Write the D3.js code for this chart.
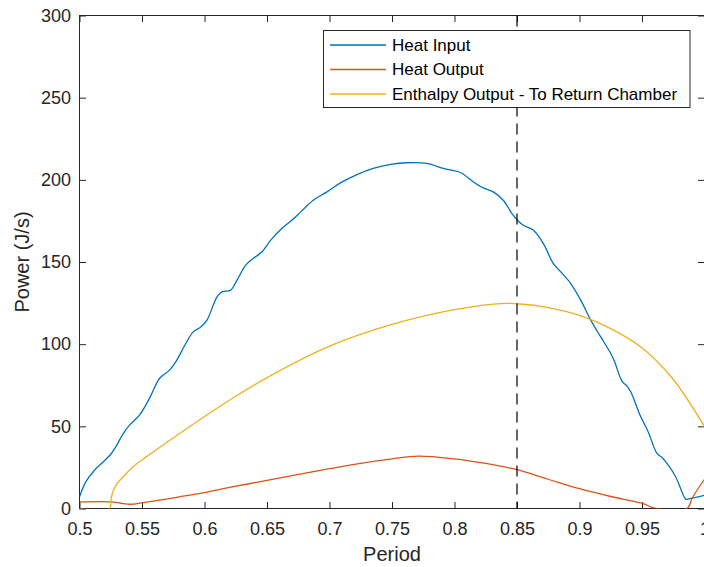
<!DOCTYPE html>
<html>
<head>
    <title>Power vs Period</title>
    <script src="https://d3js.org/d3.v7.min.js"></script>
    <style>
        body { margin: 0; background: #fff; }
        text { font-family: "Liberation Sans", Arial, sans-serif; }
    </style>
</head>
<body>
    <div id="chart"></div>
    <script>
        // period values and power (J/s)
        var heatInX = [0.500, 0.505, 0.512, 0.519, 0.525, 0.529, 0.535, 0.540, 0.548, 0.556,
                       0.564, 0.572, 0.577, 0.585, 0.591, 0.597, 0.602, 0.610, 0.614, 0.621,
                       0.626, 0.633, 0.639, 0.646, 0.653, 0.661, 0.670, 0.677, 0.687, 0.698,
                       0.709, 0.722, 0.735, 0.749, 0.762, 0.778, 0.791, 0.805, 0.815, 0.823,
                       0.831, 0.839, 0.846, 0.851, 0.855, 0.863, 0.871, 0.879, 0.885, 0.893,
                       0.901, 0.909, 0.917, 0.925, 0.928, 0.934, 0.938, 0.941, 0.949, 0.955,
                       0.962, 0.966, 0.970, 0.977, 0.982, 0.985, 0.989, 1.000];
        var heatIn  = [7.1, 16.2, 23.3, 28.4, 33.0, 37.5, 45.6, 50.7, 56.8, 67.0,
                       79.1, 84.2, 89.2, 100.4, 107.5, 110.4, 114.6, 128.8, 131.8, 132.9,
                       139.0, 148.1, 152.2, 156.2, 163.3, 169.8, 175.5, 180.5, 187.6, 192.7,
                       198.3, 203.2, 206.9, 209.4, 210.4, 210.0, 206.9, 204.3, 198.8, 195.1,
                       192.7, 187.6, 179.5, 175.0, 172.4, 169.4, 161.3, 149.1, 144.0, 136.9,
                       126.8, 114.6, 104.4, 94.3, 89.5, 77.5, 74.5, 71.0, 55.8, 46.6,
                       33.5, 31.0, 27.4, 19.2, 10.1, 5.7, 6.1, 8.1];

        var heatOutX = [0.500, 0.525, 0.533, 0.541, 0.551, 0.580, 0.600, 0.620, 0.650, 0.675,
                        0.700, 0.725, 0.750, 0.771, 0.800, 0.825, 0.850, 0.875, 0.900, 0.925,
                        0.950, 0.961, 0.986, 0.990, 0.994, 1.000];
        var heatOut  = [4.0, 4.0, 3.2, 2.6, 3.6, 7.1, 9.7, 12.8, 17.1, 20.7,
                        24.2, 27.5, 30.2, 31.9, 30.2, 27.4, 23.6, 17.8, 12.1, 7.3,
                        3.2, 0, 0, 6.1, 11.1, 17.8];

        var enthX = [0.500, 0.524, 0.5253, 0.5267, 0.5293, 0.5347, 0.5427, 0.5533, 0.580, 0.600,
                     0.620, 0.650, 0.700, 0.750, 0.800, 0.840, 0.850, 0.875, 0.900, 0.925,
                     0.950, 0.975, 1.000];
        var enth  = [0, 0, 6.1, 10.1, 14.2, 19.2, 25.3, 31.4, 45.6, 56.0,
                     65.9, 79.6, 98.8, 112.0, 121.0, 124.8, 124.6, 122.3, 117.5, 109.5,
                     97.8, 78.5, 49.8];

        var seriesNames = ["Heat Input", "Heat Output", "Enthalpy Output - To Return Chamber"];
        var seriesColors = ["#0072BD", "#D95319", "#EDB120"];

        var xTicks = [0.5, 0.55, 0.6, 0.65, 0.7, 0.75, 0.8, 0.85, 0.9, 0.95, 1];
        var xTickLabels = ["0.5", "0.55", "0.6", "0.65", "0.7", "0.75", "0.8", "0.85", "0.9", "0.95", "1"];
        var yTicks = [0, 50, 100, 150, 200, 250, 300];
        var markerX = 0.85;

        var svgWidth = 704;
        var svgHeight = 567;
        var plotLeft = 79.5, plotRight = 704.5, plotTop = 15.5, plotBottom = 508.5;
        var axisColor = "#262626";

        var svg = d3.select("#chart")
            .append("svg")
            .attr("width", svgWidth)
            .attr("height", svgHeight);

        var x = d3.scaleLinear().domain([0.5, 1]).range([plotLeft, plotRight]);
        var y = d3.scaleLinear().domain([0, 300]).range([plotBottom, plotTop]);

        svg.append("clipPath").attr("id", "plot-clip")
            .append("rect")
            .attr("x", plotLeft).attr("y", plotTop)
            .attr("width", plotRight - plotLeft).attr("height", plotBottom - plotTop);

        // ticks on all four sides, pointing inward
        function styleAxis(g) {
            g.select(".domain").remove();
            g.selectAll(".tick line").attr("stroke", axisColor);
            g.selectAll(".tick text")
                .attr("fill", axisColor)
                .style("font-size", "18px");
        }

        svg.append("g")
            .attr("transform", "translate(0," + plotBottom + ")")
            .call(d3.axisBottom(x).tickValues(xTicks)
                .tickFormat(function(d, i) { return xTickLabels[i]; })
                .tickSizeInner(-6.5).tickSizeOuter(0).tickPadding(13.5))
            .call(styleAxis);

        svg.append("g")
            .attr("transform", "translate(0," + plotTop + ")")
            .call(d3.axisTop(x).tickValues(xTicks).tickFormat("")
                .tickSizeInner(-6.5).tickSizeOuter(0))
            .call(styleAxis);

        svg.append("g")
            .attr("transform", "translate(" + plotLeft + ",0)")
            .call(d3.axisLeft(y).tickValues(yTicks)
                .tickFormat(d3.format("d"))
                .tickSizeInner(-6.5).tickSizeOuter(0).tickPadding(8.5))
            .call(styleAxis);

        svg.append("g")
            .attr("transform", "translate(" + plotRight + ",0)")
            .call(d3.axisRight(y).tickValues(yTicks).tickFormat("")
                .tickSizeInner(-6.5).tickSizeOuter(0))
            .call(styleAxis);

        svg.append("rect")
            .attr("x", plotLeft).attr("y", plotTop)
            .attr("width", plotRight - plotLeft).attr("height", plotBottom - plotTop)
            .attr("fill", "none")
            .attr("stroke", axisColor)
            .attr("stroke-width", 1);

        var line = d3.line()
            .x(function(d) { return x(d[0]); })
            .y(function(d) { return y(d[1]); })
            .curve(d3.curveCatmullRom.alpha(0.5));

        var series = [
            d3.zip(heatInX, heatIn),
            d3.zip(heatOutX, heatOut),
            d3.zip(enthX, enth)
        ];

        svg.append("g")
            .attr("clip-path", "url(#plot-clip)")
            .selectAll("path")
            .data(series)
            .enter()
            .append("path")
            .attr("d", line)
            .attr("fill", "none")
            .attr("stroke", function(d, i) { return seriesColors[i]; })
            .attr("stroke-width", 1.3);

        // dashed marker line
        svg.append("line")
            .attr("x1", x(markerX)).attr("x2", x(markerX))
            .attr("y1", plotTop).attr("y2", plotBottom)
            .attr("stroke", "#000")
            .attr("stroke-width", 1.2)
            .attr("stroke-dasharray", "11,7");

        // axis labels
        svg.append("text")
            .attr("x", (plotLeft + plotRight) / 2)
            .attr("y", 561)
            .attr("text-anchor", "middle")
            .attr("fill", axisColor)
            .style("font-size", "20px")
            .text("Period");

        svg.append("text")
            .attr("transform", "translate(29," + (plotTop + plotBottom) / 2 + ") rotate(-90)")
            .attr("text-anchor", "middle")
            .attr("fill", axisColor)
            .style("font-size", "20px")
            .text("Power (J/s)");

        // legend
        var legend = svg.append("g");
        legend.append("rect")
            .attr("x", 323.5).attr("y", 30.5)
            .attr("width", 366.5).attr("height", 77)
            .attr("fill", "#fff")
            .attr("stroke", axisColor)
            .attr("stroke-width", 1);

        var items = legend.selectAll(".item")
            .data(seriesNames)
            .enter()
            .append("g")
            .attr("class", "item")
            .attr("transform", function(d, i) { return "translate(0," + (45 + i * 24.5) + ")"; });

        items.append("line")
            .attr("x1", 330).attr("x2", 386)
            .attr("stroke", function(d, i) { return seriesColors[i]; })
            .attr("stroke-width", 1.3);

        items.append("text")
            .attr("x", 392)
            .attr("dy", "0.35em")
            .attr("fill", "#000")
            .style("font-size", "17px")
            .text(function(d) { return d; });
    </script>
</body>
</html>
